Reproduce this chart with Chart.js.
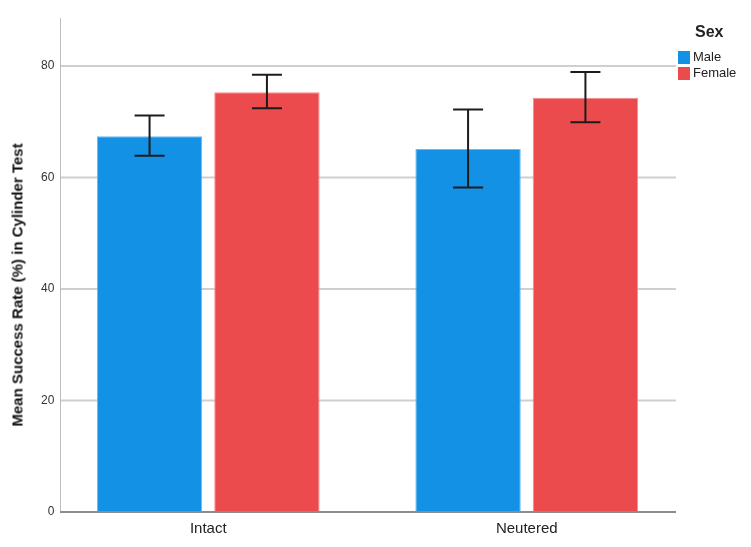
<!DOCTYPE html>
<html>
<head>
<meta charset="utf-8">
<script src="https://cdn.jsdelivr.net/npm/chart.js@4.4.1/dist/chart.umd.min.js"></script>
<style>
  body { margin: 0; background: #fff; }
  #wrap { position: relative; width: 751px; height: 547px; }
  #legend { position: absolute; left: 678px; top: 23px; font-family: "Liberation Sans", Arial, sans-serif; color: #222; }
  #legend .title { font-weight: bold; font-size: 16px; margin-left: 17px; margin-bottom: 8px; }
  #legend .item { font-size: 13px; height: 16px; line-height: 16px; display: flex; align-items: center; }
  #legend .box { width: 12px; height: 13px; margin-right: 3px; }
  #ytitle { position: absolute; left: 17px; top: 285px; transform: translate(-50%, -50%) rotate(-90deg);
            white-space: nowrap; font-family: "Liberation Sans", Arial, sans-serif; font-weight: bold;
            font-size: 15px; color: #111; }
</style>
</head>
<body>
<div id="wrap">
  <canvas id="chart" width="751" height="547"></canvas>
  <div id="ytitle">Mean Success Rate (%) in Cylinder Test</div>
  <div id="legend">
    <div class="title">Sex</div>
    <div class="item"><span class="box" style="background:#1391E5"></span>Male</div>
    <div class="item"><span class="box" style="background:#EB4B4D"></span>Female</div>
  </div>
</div>
<script>
// data
const categories = ['Intact', 'Neutered'];
const maleMean = [67.4, 65.1];
const maleLow = [63.9, 58.2];
const maleHigh = [71.1, 72.2];
const femaleMean = [75.3, 74.3];
const femaleLow = [72.4, 69.9];
const femaleHigh = [78.4, 78.9];
const yTicks = [0, 20, 40, 60, 80];

// garis grid & sumbu digambar sendiri supaya lebih pendek dari area plot
const frame = {
    id: 'frame',
    beforeDatasetsDraw(chart) {
        const ctx = chart.ctx;
        const y = chart.scales.y;
        const x0 = 60, x1 = 676;
        ctx.save();
        ctx.strokeStyle = '#cfcfcf';
        ctx.lineWidth = 2;
        yTicks.slice(1).forEach(v => {
            const py = y.getPixelForValue(v);
            ctx.beginPath(); ctx.moveTo(x0, py); ctx.lineTo(x1, py); ctx.stroke();
        });
        ctx.strokeStyle = '#bdbdbd';
        ctx.lineWidth = 1;
        ctx.beginPath(); ctx.moveTo(x0 + 0.5, y.top); ctx.lineTo(x0 + 0.5, y.bottom); ctx.stroke();
        ctx.restore();
    },
    afterDatasetsDraw(chart) {
        const ctx = chart.ctx;
        const py = chart.scales.y.getPixelForValue(0);
        ctx.save();
        ctx.strokeStyle = '#8c8c8c';
        ctx.lineWidth = 2;
        ctx.beginPath(); ctx.moveTo(60, py); ctx.lineTo(676, py); ctx.stroke();
        ctx.restore();
    }
};

const errorBars = {
    id: 'errorBars',
    afterDatasetsDraw(chart) {
        const ctx = chart.ctx;
        const y = chart.scales.y;
        ctx.save();
        ctx.strokeStyle = '#1c1c1c';
        ctx.lineWidth = 2;
        chart.data.datasets.forEach((ds, i) => {
            const meta = chart.getDatasetMeta(i);
            meta.data.forEach((bar, j) => {
                const top = y.getPixelForValue(ds.high[j]);
                const bot = y.getPixelForValue(ds.low[j]);
                const x = bar.x;
                ctx.beginPath();
                ctx.moveTo(x, top); ctx.lineTo(x, bot);
                ctx.moveTo(x - 15, top); ctx.lineTo(x + 15, top);
                ctx.moveTo(x - 15, bot); ctx.lineTo(x + 15, bot);
                ctx.stroke();
            });
        });
        ctx.restore();
    }
};

const ctx = document.getElementById('chart').getContext('2d');
const chart = new Chart(ctx, {
    type: 'bar',
    data: {
        labels: categories,
        datasets: [
            {
                label: 'Male',
                data: maleMean,
                low: maleLow,
                high: maleHigh,
                backgroundColor: '#1391E5',
                borderColor: '#6ab8ee',
                borderWidth: 1
            },
            {
                label: 'Female',
                data: femaleMean,
                low: femaleLow,
                high: femaleHigh,
                backgroundColor: '#EB4B4D',
                borderColor: '#f28e8f',
                borderWidth: 1
            }
        ]
    },
    options: {
        responsive: false,
        animation: false,
        layout: { padding: { top: 18, right: 65, left: 0, bottom: 0 } },
        categoryPercentage: 0.737,
        barPercentage: 0.898,
        plugins: {
            legend: { display: false },
            tooltip: { enabled: false }
        },
        scales: {
            x: {
                grid: { display: false, drawTicks: false },
                border: { display: false },
                ticks: {
                    color: '#222',
                    padding: 8,
                    font: { family: 'Liberation Sans', size: 15 }
                },
                afterFit(scale) { scale.height = 35; }
            },
            y: {
                min: 0,
                max: 88.6,
                afterBuildTicks(scale) {
                    scale.ticks = yTicks.map(v => ({ value: v }));
                },
                grid: { display: false, drawTicks: false },
                border: { display: false },
                ticks: {
                    color: '#333',
                    mirror: true,
                    crossAlign: 'far',
                    padding: -8,
                    font: { family: 'Liberation Sans', size: 12 }
                },
                afterFit(scale) { scale.width = 49; }
            }
        }
    },
    plugins: [frame, errorBars]
});
</script>
</body>
</html>
